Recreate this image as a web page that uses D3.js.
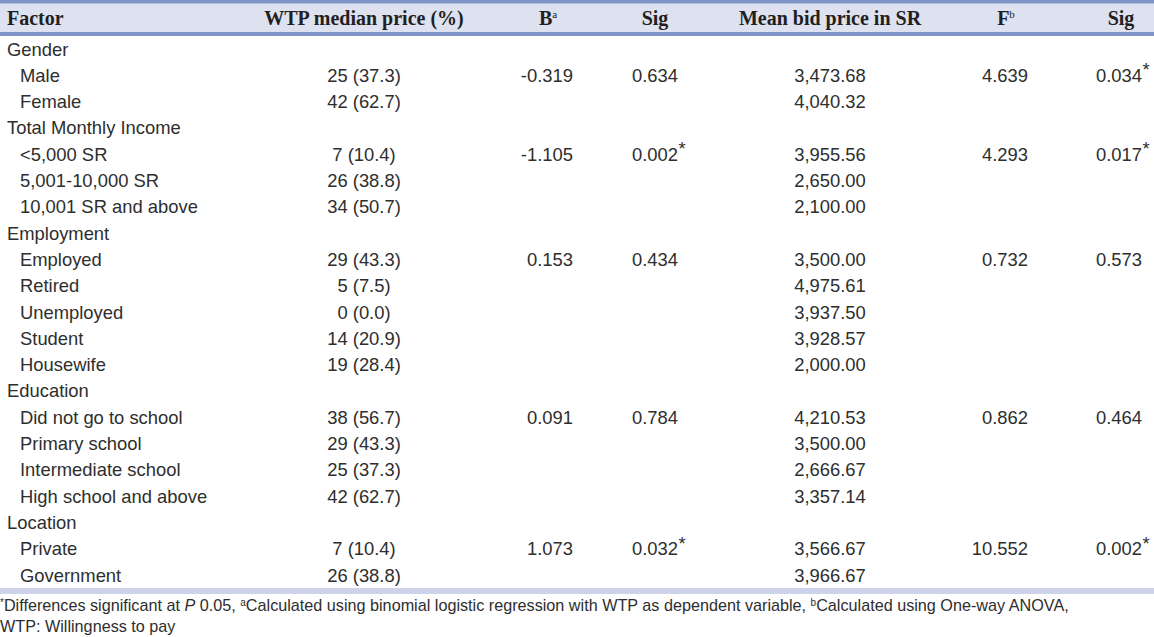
<!DOCTYPE html>
<meta charset="utf-8">
<style>
body { margin: 0; background: #fff; }
.hdr { font-family: "Liberation Serif", "Times New Roman", serif; font-weight: bold; font-size: 20px; fill: #231f20; }
.cell { font-family: "Liberation Sans", Arial, sans-serif; font-size: 18.4px; fill: #2e2e2e; }
.note { font-family: "Liberation Sans", Arial, sans-serif; font-size: 16.2px; fill: #2e2e2e; }
</style>
<body>
<script src="https://d3js.org/d3.v7.min.js"></script>
<script>

var width = 1154, height = 637;

// table data
var groups = ["Gender", "Total Monthly Income", "Employment", "Education", "Location"];
var items = [
  ["Male", "Female"],
  ["<5,000 SR", "5,001-10,000 SR", "10,001 SR and above"],
  ["Employed", "Retired", "Unemployed", "Student", "Housewife"],
  ["Did not go to school", "Primary school", "Intermediate school", "High school and above"],
  ["Private", "Government"]
];
var wtpCount = [[25, 42], [7, 26, 34], [29, 5, 0, 14, 19], [38, 29, 25, 42], [7, 26]];
var wtpPct = [[37.3, 62.7], [10.4, 38.8, 50.7], [43.3, 7.5, 0.0, 20.9, 28.4], [56.7, 43.3, 37.3, 62.7], [10.4, 38.8]];
var bCoef = [-0.319, -1.105, 0.153, 0.091, 1.073];
var bSig = [0.634, 0.002, 0.434, 0.784, 0.032];
var meanBid = [[3473.68, 4040.32], [3955.56, 2650.00, 2100.00],
  [3500.00, 4975.61, 3937.50, 3928.57, 2000.00],
  [4210.53, 3500.00, 2666.67, 3357.14], [3566.67, 3966.67]];
var fStat = [4.639, 4.293, 0.732, 0.862, 10.552];
var fSig = [0.034, 0.017, 0.573, 0.464, 0.002];

var headers = [
  {text: "Factor", sup: "", x: 7, anchor: "start"},
  {text: "WTP median price (%)", sup: "", x: 364, anchor: "middle"},
  {text: "B", sup: "a", x: 548, anchor: "middle"},
  {text: "Sig", sup: "", x: 655, anchor: "middle"},
  {text: "Mean bid price in SR", sup: "", x: 830, anchor: "middle"},
  {text: "F", sup: "b", x: 1006, anchor: "middle"},
  {text: "Sig", sup: "", x: 1121, anchor: "middle"}
];

var f3 = d3.format(".3f"), fBid = d3.format(",.2f"), f1 = d3.format(".1f");
function hy(s) { return s.replace("\u2212", "-"); }

// flatten to rows
var rows = [];
groups.forEach(function(g, gi) {
  rows.push({label: g, level: 0, gi: gi, first: false});
  items[gi].forEach(function(it, ii) {
    rows.push({label: it, level: 1, gi: gi, ii: ii, first: ii === 0});
  });
});

var y = d3.scaleLinear().domain([0, rows.length - 1]).range([49, 575]);

var svg = d3.select("body").append("svg")
    .attr("width", width)
    .attr("height", height);

// header band
svg.append("rect").attr("x", 0).attr("y", 0).attr("width", width).attr("height", 33).attr("fill", "#dde1f0");
svg.append("rect").attr("x", 0).attr("y", 0).attr("width", width).attr("height", 3.5).attr("fill", "#8094c8");
svg.append("rect").attr("x", 0).attr("y", 32).attr("width", width).attr("height", 4).attr("fill", "#8094c8");
svg.append("rect").attr("x", 0).attr("y", 588).attr("width", width).attr("height", 6).attr("fill", "#cdd3ea");

var h = svg.selectAll(".hdr").data(headers).enter().append("text")
    .attr("class", "hdr")
    .attr("x", function(d) { return d.x; })
    .attr("y", 25)
    .attr("text-anchor", function(d) { return d.anchor; })
    .text(function(d) { return d.text; });
h.filter(function(d) { return d.sup; }).append("tspan")
    .attr("dy", -7)
    .attr("font-size", 11)
    .attr("font-weight", "normal")
    .text(function(d) { return d.sup; });

function cell(x, yy, txt, anchor) {
  return svg.append("text").attr("class", "cell")
    .attr("x", x).attr("y", yy + 6.5)
    .attr("text-anchor", anchor)
    .text(txt);
}
function star(x, yy) {
  svg.append("text").attr("class", "cell")
    .attr("x", x + 0.5).attr("y", yy + 1)
    .attr("font-size", 10)
    .text("*");
}
function sigCell(x, yy, p) {
  var t = cell(x, yy, f3(p), "middle");
  if (p < 0.05) star(x + t.node().getComputedTextLength() / 2, yy);
}

rows.forEach(function(r, i) {
  var yy = y(i);
  cell(r.level ? 20 : 7, yy, r.label, "start");
  if (!r.level) return;
  var gi = r.gi, ii = r.ii;
  cell(364, yy, wtpCount[gi][ii] + " (" + f1(wtpPct[gi][ii]) + ")", "middle");
  cell(830, yy, fBid(meanBid[gi][ii]), "middle");
  if (r.first) {
    cell(573, yy, hy(f3(bCoef[gi])), "end");
    sigCell(655, yy, bSig[gi]);
    cell(1028, yy, f3(fStat[gi]), "end");
    sigCell(1119, yy, fSig[gi]);
  }
});

// footnote
var n1 = svg.append("text").attr("class", "note").attr("x", 0).attr("y", 611);
n1.append("tspan").attr("font-size", 10).attr("dy", -5).text("*");
n1.append("tspan").attr("dy", 5).text("Differences significant at ");
n1.append("tspan").attr("font-style", "italic").text("P");
n1.append("tspan").text(" 0.05, ");
n1.append("tspan").attr("font-size", 10).attr("dy", -5).text("a");
n1.append("tspan").attr("dy", 5).text("Calculated using binomial logistic regression with WTP as dependent variable, ");
n1.append("tspan").attr("font-size", 10).attr("dy", -5).text("b");
n1.append("tspan").attr("dy", 5).text("Calculated using One-way ANOVA,");
svg.append("text").attr("class", "note").attr("x", 0).attr("y", 632).text("WTP: Willingness to pay");

</script>
</body>
